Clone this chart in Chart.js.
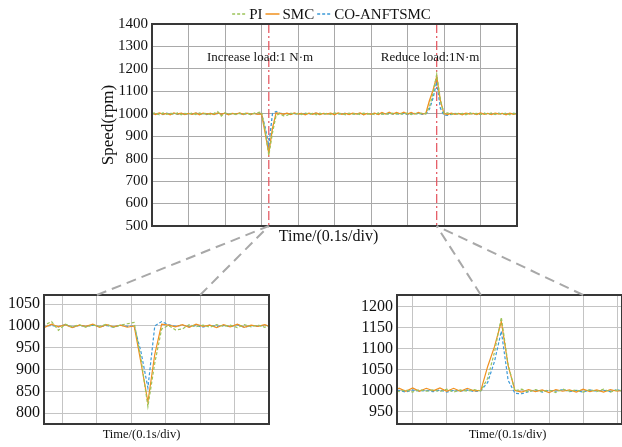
<!DOCTYPE html>
<html>
<head>
<meta charset="utf-8">
<script src="https://cdn.jsdelivr.net/npm/chart.js@4/dist/chart.umd.min.js"></script>
<style>
  html, body { margin: 0; padding: 0; background: #fff; }
  body { position: relative; width: 622px; height: 447px; overflow: hidden; }
  canvas { position: absolute; }
  #main  { left: 0;   top: 0; }
  #zoomA { left: 0;   top: 280px; }
  #zoomB { left: 355px; top: 280px; }
  #links { left: 0;   top: 0; pointer-events: none; }
</style>
</head>
<body>
<canvas id="main" width="622" height="252"></canvas>
<canvas id="zoomA" width="290" height="167"></canvas>
<canvas id="zoomB" width="290" height="167"></canvas>
<canvas id="links" width="622" height="447"></canvas>
<script>
// sample times (ms), one sample every 10 ms
const timeMs = [0, 10, 20, 30, 40, 50, 60, 70, 80, 90,
  100, 110, 120, 130, 140, 150, 160, 170, 180, 190,
  200, 210, 220, 230, 240, 250, 260, 270, 280, 290,
  300, 310, 320, 330, 340, 350, 360, 370, 380, 390,
  400, 410, 420, 430, 440, 450, 460, 470, 480, 490,
  500, 510, 520, 530, 540, 550, 560, 570, 580, 590,
  600, 610, 620, 630, 640, 650, 660, 670, 680, 690,
  700, 710, 720, 730, 740, 750, 760, 770, 780, 790,
  800, 810, 820, 830, 840, 850, 860, 870, 880, 890,
  900, 910, 920, 930, 940, 950, 960, 970, 980, 990, 1000];

// speed (rpm)
const piSpeed = [1000, 1005, 996, 1004, 998, 1003, 997, 1004, 996, 1002,
  999, 1003, 997, 1004, 998, 1002, 996, 1002, 1010, 990,
  1004, 998, 1003, 997, 1002, 999, 1004, 997, 1002, 1005,
  1008, 925, 815, 915, 993, 1001, 991, 993, 1003, 998,
  1002, 997, 1003, 999, 1002, 996, 1003, 998, 1002, 997,
  1004, 999, 1002, 996, 1003, 998, 1002, 997, 1003, 999,
  1002, 996, 1004, 998, 1002, 997, 1003, 999, 1002, 998,
  1004, 997, 1002, 999, 1003, 1000, 1030, 1092, 1175, 1062,
  1000, 1004, 997, 1003, 998, 1002, 996, 1004, 999, 1002,
  997, 1003, 998, 1004, 997, 1002, 999, 1003, 996, 1002, 1000];

const smcSpeed = [1003, 997, 1004, 998, 1002, 996, 1004, 999, 1003, 997,
  1002, 998, 1004, 996, 1003, 999, 1002, 997, 1004, 998,
  1003, 996, 1002, 999, 1004, 997, 1003, 998, 1002, 997,
  1000, 915, 825, 935, 1004, 1002, 998, 1003, 997, 1004,
  999, 1002, 996, 1003, 998, 1004, 997, 1002, 999, 1003,
  996, 1004, 998, 1002, 997, 1003, 999, 1004, 996, 1002,
  998, 1003, 997, 1006, 999, 1007, 999, 1006, 1000, 1007,
  999, 1006, 999, 1006, 1000, 1001, 1058, 1105, 1165, 1060,
  1001, 997, 1003, 998, 1002, 996, 1003, 999, 1002, 997,
  1004, 998, 1002, 997, 1003, 999, 1002, 996, 1003, 998, 1001];

const coSpeed = [1002, 998, 1001, 997, 1003, 999, 1001, 998, 1002, 997,
  1001, 999, 1003, 998, 1001, 997, 1002, 999, 1001, 998,
  1003, 997, 1001, 999, 1002, 998, 1001, 997, 1002, 999,
  1000, 940, 858, 1000, 1010, 1003, 999, 1002, 998, 1001,
  997, 1002, 999, 1001, 998, 1003, 997, 1001, 999, 1002,
  998, 1001, 997, 1003, 999, 1001, 998, 1002, 997, 1001,
  999, 1002, 998, 1001, 997, 1002, 999, 1001, 998, 1002,
  997, 1001, 999, 1002, 998, 1000, 1020, 1070, 1142, 1025,
  994, 993, 998, 1002, 997, 1001, 999, 1003, 998, 1001,
  997, 1002, 999, 1001, 998, 1003, 997, 1001, 999, 1002, 1000];

const seriesNames = ['PI', 'SMC', 'CO-ANFTSMC'];

// load steps
const loadTimes = [320, 780];
const loadLabels = ['Increase load:1 N\u00b7m', 'Reduce load:1N\u00b7m'];

// y ticks of the two close-ups
const zoomATicks = [800, 850, 900, 950, 1000, 1050];
const zoomBTicks = [950, 1000, 1050, 1100, 1150, 1200];

const SERIF = '"Liberation Serif", "Times New Roman", serif';
Chart.defaults.font.family = SERIF;
Chart.defaults.color = '#111';

function toPoints(values) {
  return values.map((v, i) => ({ x: timeMs[i], y: v }));
}

function makeSets(width) {
  const styles = [
    { color: '#9cc35a', dash: [3, 2] },
    { color: '#f0901e', dash: [] },
    { color: '#3d9ad8', dash: [3, 2] }
  ];
  return [piSpeed, smcSpeed, coSpeed].map((vals, k) => ({
    label: seriesNames[k],
    data: toPoints(vals),
    borderColor: styles[k].color,
    backgroundColor: styles[k].color,
    borderDash: styles[k].dash,
    borderWidth: width,
    pointRadius: 0,
    tension: 0,
    fill: false
  }));
}

// plain numbers, no thousands separator
const plainTick = v => String(v);

// dark box round the plot area
const framePlugin = {
  id: 'frame',
  afterDraw(chart) {
    const { ctx, chartArea: a } = chart;
    ctx.save();
    ctx.strokeStyle = '#383838';
    ctx.lineWidth = 2;
    ctx.strokeRect(a.left, a.top, a.right - a.left, a.bottom - a.top);
    ctx.restore();
  }
};

// text under the plot area
const captionPlugin = {
  id: 'caption',
  afterDraw(chart, args, opts) {
    const { ctx, chartArea: a } = chart;
    ctx.save();
    ctx.font = opts.size + 'px ' + SERIF;
    ctx.fillStyle = '#111';
    ctx.textAlign = 'center';
    ctx.textBaseline = 'middle';
    ctx.fillText(opts.text, (a.left + a.right) / 2 + opts.dx, a.bottom + opts.dy);
    ctx.restore();
  }
};

// compact key above the plot: short line sample then the name
const keyPlugin = {
  id: 'seriesKey',
  afterDraw(chart, args, opts) {
    const { ctx, chartArea: a } = chart;
    ctx.save();
    ctx.font = opts.size + 'px ' + SERIF;
    const items = chart.data.datasets.map(ds => ({ ds, w: ctx.measureText(ds.label).width }));
    const total = items.reduce((s, it) => s + opts.line + opts.gap + it.w, 0) + opts.gap * (items.length - 1);
    let x = (a.left + a.right) / 2 - total / 2 + opts.dx;
    const y = a.top - opts.dy;
    ctx.textBaseline = 'middle';
    ctx.fillStyle = '#111';
    items.forEach(it => {
      ctx.strokeStyle = it.ds.borderColor;
      ctx.lineWidth = 1.5;
      ctx.setLineDash(it.ds.borderDash);
      ctx.beginPath();
      ctx.moveTo(x, y);
      ctx.lineTo(x + opts.line, y);
      ctx.stroke();
      x += opts.line + opts.gap;
      ctx.fillText(it.ds.label, x, y + 1);
      x += it.w + opts.gap;
    });
    ctx.restore();
  }
};

// red dash-dot markers where the load changes
const loadPlugin = {
  id: 'loadSteps',
  beforeDatasetsDraw(chart, args, opts) {
    const { ctx, chartArea: a, scales } = chart;
    ctx.save();
    loadTimes.forEach((t, k) => {
      const x = scales.x.getPixelForValue(t);
      ctx.strokeStyle = '#e4505a';
      ctx.lineWidth = 1.2;
      ctx.setLineDash([9, 3, 2, 3]);
      ctx.beginPath();
      ctx.moveTo(x, a.top);
      ctx.lineTo(x, a.bottom);
      ctx.stroke();
      ctx.setLineDash([]);
      ctx.font = '13px ' + SERIF;
      ctx.fillStyle = '#111';
      ctx.textAlign = 'center';
      ctx.textBaseline = 'middle';
      ctx.fillText(loadLabels[k], scales.x.getPixelForValue(t + opts.shift[k]), scales.y.getPixelForValue(1250));
    });
    ctx.restore();
  }
};

const mainChart = new Chart(document.getElementById('main'), {
  type: 'line',
  data: { datasets: makeSets(1.3) },
  options: {
    responsive: false,
    animation: false,
    layout: { padding: { left: 98, right: 105, top: 24, bottom: 26 } },
    plugins: {
      legend: { display: false },
      tooltip: { enabled: false },
      caption: { text: 'Time/(0.1s/div)', size: 16, dx: -6, dy: 11 },
      loadSteps: { shift: [-24, -18] },
      seriesKey: { size: 15, line: 14, gap: 3, dx: -3, dy: 10 }
    },
    scales: {
      x: {
        type: 'linear',
        min: 0,
        max: 1000,
        ticks: { display: false, stepSize: 100 },
        grid: { color: '#a9a9a9', drawTicks: false },
        border: { display: false },
        afterFit: s => { s.height = 0; }
      },
      y: {
        min: 500,
        max: 1400,
        ticks: { stepSize: 100, padding: 4, color: '#111', font: { size: 15 }, callback: plainTick },
        grid: { color: '#a9a9a9', drawTicks: false },
        border: { display: false },
        title: { display: true, text: 'Speed(rpm)', color: '#111', font: { size: 17 }, padding: 0 },
        afterFit: s => { s.width = 54; }
      }
    }
  },
  plugins: [loadPlugin, captionPlugin, framePlugin, keyPlugin]
});

function zoomChart(id, xMin, xMax, xStep, yMin, yMax, yTicks, pad, yWidth, capDx) {
  return new Chart(document.getElementById(id), {
    type: 'line',
    data: { datasets: makeSets(1.2) },
    options: {
      responsive: false,
      animation: false,
      layout: { padding: pad },
      plugins: {
        legend: { display: false },
        tooltip: { enabled: false },
        caption: { text: 'Time/(0.1s/div)', size: 12.5, dx: capDx, dy: 11 }
      },
      scales: {
        x: {
          type: 'linear',
          min: xMin,
          max: xMax,
          ticks: { display: false },
          afterBuildTicks: s => {
            const ticks = [];
            for (let v = xStep[0]; v <= xMax + 0.5; v += xStep[1]) ticks.push({ value: v });
            s.ticks = ticks;
          },
          grid: { color: '#c4c4c4', drawTicks: false },
          border: { display: false },
          afterFit: s => { s.height = 0; }
        },
        y: {
          min: yMin,
          max: yMax,
          afterBuildTicks: s => { s.ticks = yTicks.map(v => ({ value: v })); },
          ticks: { padding: 4, color: '#111', font: { size: 16 }, callback: plainTick },
          grid: { color: '#c4c4c4', drawTicks: false },
          border: { display: false },
          afterFit: s => { s.width = yWidth; }
        }
      }
    },
    plugins: [captionPlugin, framePlugin]
  });
}

// close-up of the load increase and of the load reduction
const zoomA = zoomChart('zoomA', 169, 496, [196, 50], 775, 1071, zoomATicks,
  { left: 0, right: 21, top: 15, bottom: 23 }, 44, -15);
const zoomB = zoomChart('zoomB', 627, 957, [650, 50], 921, 1228, zoomBTicks,
  { left: 0, right: 23, top: 15, bottom: 23 }, 42, -2);

// dashed leader lines from each load step down to its close-up
function drawLinks() {
  const ctx = document.getElementById('links').getContext('2d');
  const main = mainChart;
  const links = [
    { t: loadTimes[0], chart: zoomA, canvas: 'zoomA', ends: [246, 396] },
    { t: loadTimes[1], chart: zoomB, canvas: 'zoomB', ends: [750, 900] }
  ];
  ctx.strokeStyle = '#a8a8a8';
  ctx.lineWidth = 2;
  ctx.setLineDash([10, 6]);
  links.forEach(l => {
    const el = document.getElementById(l.canvas);
    const x0 = main.scales.x.getPixelForValue(l.t);
    const y0 = main.chartArea.bottom;
    l.ends.forEach(t => {
      const x1 = el.offsetLeft + l.chart.scales.x.getPixelForValue(t);
      const y1 = el.offsetTop + l.chart.chartArea.top;
      ctx.beginPath();
      ctx.moveTo(x1, y1);
      ctx.lineTo(x0, y0);
      ctx.stroke();
    });
  });
}
drawLinks();
</script>
</body>
</html>
